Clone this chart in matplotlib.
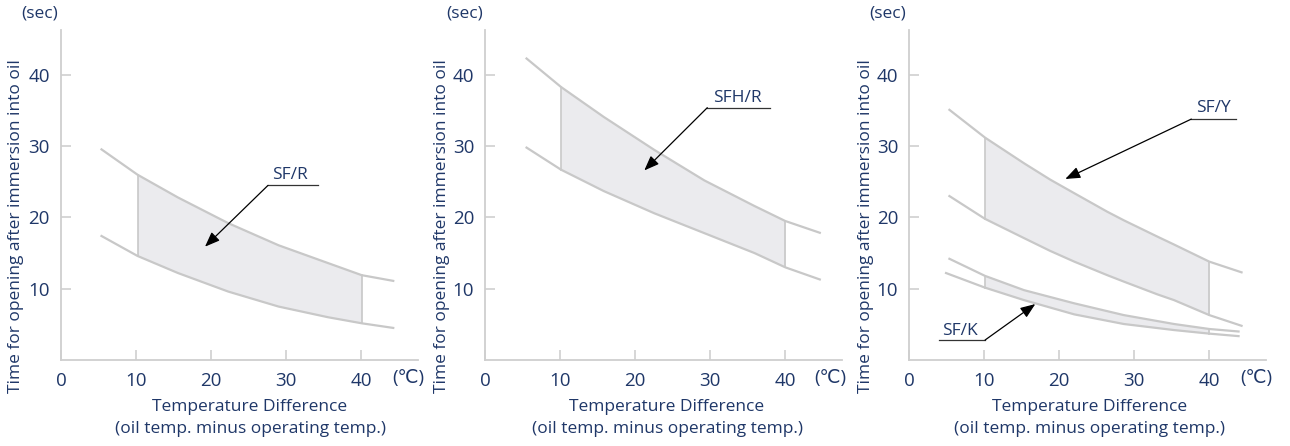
import matplotlib.pyplot as plt

plt.rcParams['font.family'] = ['Open Sans', 'DejaVu Sans']

# ---- data ----
# SF/R
xr = [5.4, 10.2, 15.6, 22.3, 29.0, 35.6, 40.1, 44.3]
sfr_hi = [29.55, 26.0, 22.8, 19.2, 16.1, 13.6, 11.9, 11.1]
sfr_lo = [17.4, 14.6, 12.2, 9.6, 7.5, 6.0, 5.15, 4.5]

# SFH/R
xh = [5.5, 10.1, 15.8, 22.5, 29.2, 35.9, 40.0, 44.6]
sfh_hi = [42.3, 38.3, 34.1, 29.5, 25.2, 21.6, 19.5, 17.85]
sfh_lo = [29.8, 26.7, 23.7, 20.6, 17.8, 15.0, 13.0, 11.3]

# SF/Y
xy = [5.35, 10.1, 15.3, 18.8, 22.0, 26.4, 28.6, 33.1, 35.3, 40.0, 44.3]
sfy_hi = [35.1, 31.2, 27.6, 25.3, 23.4, 20.8, 19.6, 17.3, 16.2, 13.8, 12.3]
sfy_lo = [23.0, 19.8, 17.1, 15.3, 13.8, 11.9, 11.0, 9.2, 8.4, 6.3, 4.8]

# SF/K (the two curves start at slightly different x)
xk_hi = [5.35, 10.1, 15.3, 22.0, 28.6, 35.3, 40.0, 43.9]
sfk_hi = [14.2, 11.8, 9.8, 7.95, 6.3, 5.05, 4.35, 4.0]
xk_lo = [4.9, 10.1, 15.3, 22.0, 28.6, 35.3, 40.0, 43.9]
sfk_lo = [12.2, 10.15, 8.4, 6.4, 5.05, 4.2, 3.7, 3.35]

xticks = [0, 10, 20, 30, 40]
yticks = [10, 20, 30, 40]

navy = '#1f3768'
curve = '#c8c8c8'
fillc = '#ebebee'
axc = '#cfcfcf'

W, H = 1290, 446
fig = plt.figure(figsize=(12.9, 4.46), dpi=100)

lefts = [61, 485.3, 909.3]
ax_w, ax_bot, ax_top = 357, 360, 30
xlab_pos = [250, 667, 1090]
ylab_pos = [16, 442, 866]
sec_pos = [40, 465, 888]
degc_pos = [408, 830, 1256]


def band(ax, x, hi, lo, x0, x1):
    ax.plot(x, hi, color=curve, lw=1.6, solid_joinstyle='round')
    ax.plot(x, lo, color=curve, lw=1.6, solid_joinstyle='round')
    xs = [v for v in x if x0 <= v <= x1]
    his = [h for v, h in zip(x, hi) if x0 <= v <= x1]
    los = [l for v, l in zip(x, lo) if x0 <= v <= x1]
    ax.fill_between(xs, los, his, color=fillc, lw=0, zorder=0)
    ax.plot([xs[0], xs[0]], [los[0], his[0]], color=curve, lw=1.2)
    ax.plot([xs[-1], xs[-1]], [los[-1], his[-1]], color=curve, lw=1.2)


def tag(ax, text, tx, ty, u0, u1, uy, px, py, start_right=False):
    ax.plot([u0, u1], [uy, uy], color='#333333', lw=0.9)
    sx = u1 if start_right else u0
    ax.annotate('', xy=(px, py), xytext=(sx, uy),
                arrowprops=dict(arrowstyle='-|>,head_length=0.9,head_width=0.35',
                                color='black', lw=0.9, shrinkA=0, shrinkB=0))
    ax.text(tx, ty, text, color=navy, fontsize=12.5, ha='center', va='center')


axes = []
for i in range(3):
    ax = fig.add_axes([lefts[i] / W, 1 - ax_bot / H, ax_w / W, (ax_bot - ax_top) / H])
    ax.set_xlim(0, 47.6)
    ax.set_ylim(0, 46.3)
    for s in ['top', 'right']:
        ax.spines[s].set_visible(False)
    for s in ['left', 'bottom']:
        ax.spines[s].set_color(axc)
        ax.spines[s].set_linewidth(1.3)
    ax.set_xticks(xticks)
    ax.set_yticks(yticks)
    ax.tick_params(direction='in', length=7, width=1.2, color=axc,
                   labelcolor=navy, labelsize=13.5, pad=8)
    ax.tick_params(axis='x', pad=9)
    fig.text(xlab_pos[i] / W, 1 - 407 / H, 'Temperature Difference',
             color=navy, fontsize=12.5, ha='center', va='center')
    fig.text(xlab_pos[i] / W, 1 - 429 / H, '(oil temp. minus operating temp.)',
             color=navy, fontsize=12.5, ha='center', va='center')
    fig.text(ylab_pos[i] / W, 1 - 226 / H, 'Time for opening after immersion into oil',
             color=navy, fontsize=12.5, ha='center', va='center', rotation=90)
    fig.text(sec_pos[i] / W, 1 - 14 / H, '(sec)', color=navy, fontsize=12.5,
             ha='center', va='center')
    fig.text(degc_pos[i] / W, 1 - 378 / H, '(℃)', color=navy, fontsize=13.5,
             ha='center', va='center')
    axes.append(ax)

ax1, ax2, ax3 = axes

band(ax1, xr, sfr_hi, sfr_lo, 10.2, 40.1)
tag(ax1, 'SF/R', 30.5, 26.0, 27.6, 34.3, 24.5, 19.2, 15.9)

band(ax2, xh, sfh_hi, sfh_lo, 10.1, 40.0)
tag(ax2, 'SFH/R', 33.6, 36.7, 29.6, 37.9, 35.4, 21.2, 26.6)

band(ax3, xy, sfy_hi, sfy_lo, 10.1, 40)
tag(ax3, 'SF/Y', 40.5, 35.3, 37.6, 43.6, 33.8, 20.8, 25.4)

ax3.plot(xk_hi, sfk_hi, color=curve, lw=1.6, solid_joinstyle='round')
ax3.plot(xk_lo, sfk_lo, color=curve, lw=1.6, solid_joinstyle='round')
ax3.fill_between(xk_hi[1:-1], sfk_lo[1:-1], sfk_hi[1:-1], color=fillc, lw=0, zorder=0)
ax3.plot([xk_hi[1]] * 2, [sfk_lo[1], sfk_hi[1]], color=curve, lw=1.2)
ax3.plot([xk_hi[-2]] * 2, [sfk_lo[-2], sfk_hi[-2]], color=curve, lw=1.2)
tag(ax3, 'SF/K', 6.7, 4.1, 4.0, 10.1, 2.8, 16.8, 7.85, start_right=True)

fig.savefig('out.png', dpi=100)
